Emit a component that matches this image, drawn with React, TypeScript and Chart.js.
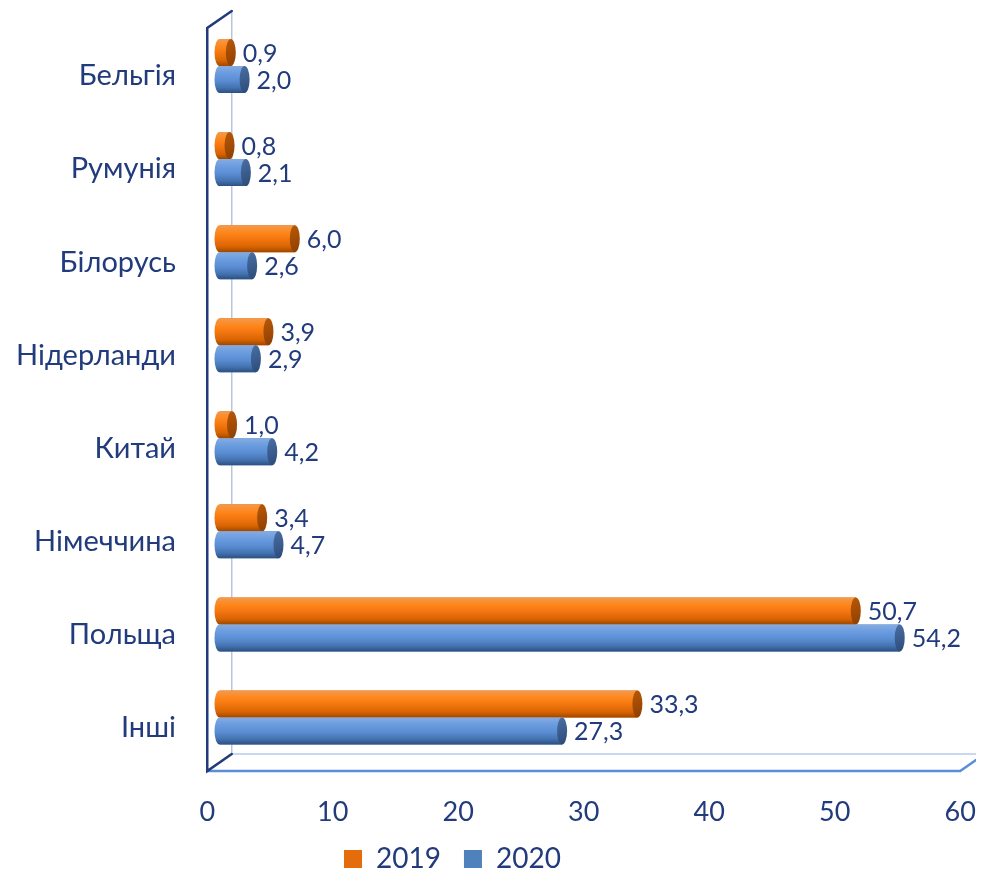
import React, { useEffect, useRef } from 'react';
import { Chart, registerables } from 'chart.js';

Chart.register(...registerables);

const categories = ['Бельгія', 'Румунія', 'Білорусь', 'Нідерланди', 'Китай', 'Німеччина', 'Польща', 'Інші'];
const values2019 = [0.9, 0.8, 6.0, 3.9, 1.0, 3.4, 50.7, 33.3];
const values2020 = [2.0, 2.1, 2.6, 2.9, 4.2, 4.7, 54.2, 27.3];
const seriesLabels = ['2019', '2020'];
const xMin = 0;
const xMax = 60;
const xStep = 10;

const NAVY = '#213b7c';
const FONT = 'Lato, "Open Sans", sans-serif';
const CAT_FONT = 29;
const TICK_FONT = 27;
const DATA_FONT = 25;
const LEGEND_FONT = 28;
const LEGEND_PAD = 23;

const CYL = [
  { solid: '#E46C0A', stops: ['#f39a4e', '#ff8518', '#f07410', '#d86400', '#9e4700'], cap: ['#b85808', '#8e3f02'] },
  { solid: '#4F81BD', stops: ['#86ace2', '#679ade', '#5a8cd2', '#4473b0', '#2c4f80'], cap: ['#4a6fa4', '#2c4a78'] },
];

const W = 968;
const H = 871;
const CHART_TOP = 11.5;
const CHART_BOTTOM = 756;
const Y_AXIS_W = 211.5;
const DX = 12.25;
const DY = 8.5;

function fmt(v: number) {
  return v.toFixed(1).replace('.', ',');
}

function drawCylinder(ctx: CanvasRenderingContext2D, x0: number, x1: number, yc: number, h: number, style: any) {
  const r = 5;
  const top = yc - h / 2;
  const g = ctx.createLinearGradient(0, top, 0, top + h);
  const pos = [0, 0.3, 0.55, 0.8, 1];
  for (let i = 0; i < style.stops.length; i++) g.addColorStop(pos[i], style.stops[i]);
  ctx.save();
  ctx.beginPath();
  ctx.moveTo(x1, top);
  ctx.lineTo(x0, top);
  ctx.ellipse(x0, yc, r, h / 2, 0, -Math.PI / 2, Math.PI / 2, true);
  ctx.lineTo(x1, top + h);
  ctx.closePath();
  ctx.fillStyle = g;
  ctx.fill();
  const cg = ctx.createLinearGradient(x1 - r, top, x1 + r, top + h);
  cg.addColorStop(0, style.cap[0]);
  cg.addColorStop(1, style.cap[1]);
  ctx.beginPath();
  ctx.ellipse(x1, yc, r, h / 2, 0, 0, Math.PI * 2);
  ctx.fillStyle = cg;
  ctx.fill();
  ctx.restore();
}

const boxPlugin = {
  id: 'box3d',
  beforeDatasetsDraw(chart: any) {
    const { ctx, chartArea } = chart;
    const L = chartArea.left;
    const R = chartArea.right;
    const T = chartArea.top;
    const fy = chartArea.bottom - 1.5;
    ctx.save();
    ctx.lineCap = 'round';
    ctx.strokeStyle = '#b9c5dd';
    ctx.lineWidth = 1.5;
    ctx.beginPath();
    ctx.moveTo(L + DX, T - DY);
    ctx.lineTo(L + DX, fy - DY);
    ctx.stroke();
    ctx.strokeStyle = '#c9d8f0';
    ctx.lineWidth = 2;
    ctx.beginPath();
    ctx.moveTo(L + DX, fy - DY);
    ctx.lineTo(R + DX, fy - DY);
    ctx.stroke();
    ctx.strokeStyle = '#5b8dd8';
    ctx.lineWidth = 2.5;
    ctx.beginPath();
    ctx.moveTo(L - DX, fy + DY);
    ctx.lineTo(R - DX, fy + DY);
    ctx.lineTo(R + DX, fy - DY);
    ctx.stroke();
    ctx.strokeStyle = '#223a78';
    ctx.lineWidth = 2.5;
    ctx.beginPath();
    ctx.moveTo(L + DX, T - DY);
    ctx.lineTo(L - DX, T + DY);
    ctx.lineTo(L - DX, fy + DY);
    ctx.lineTo(L + DX, fy - DY);
    ctx.stroke();
    ctx.restore();
  },
  afterDatasetsDraw(chart: any) {
    const { ctx } = chart;
    chart.data.datasets.forEach((ds: any, di: number) => {
      const meta = chart.getDatasetMeta(di);
      if (meta.hidden) return;
      meta.data.forEach((bar: any) => {
        const p = bar.getProps(['x', 'y', 'base', 'height'], true);
        drawCylinder(ctx, p.base, p.x, p.y, p.height, CYL[di]);
      });
    });
    ctx.save();
    ctx.fillStyle = NAVY;
    ctx.font = `${DATA_FONT}px ${FONT}`;
    ctx.textAlign = 'left';
    ctx.textBaseline = 'middle';
    chart.data.datasets.forEach((ds: any, di: number) => {
      const meta = chart.getDatasetMeta(di);
      meta.data.forEach((bar: any, i: number) => {
        const p = bar.getProps(['x', 'y'], true);
        ctx.fillText(fmt(ds.data[i]), p.x + 12, p.y + 1);
      });
    });
    ctx.restore();
  },
  afterLayout(chart: any) {
    const xs = chart.scales.x;
    if (xs) xs.bottom = chart.height;
    const lg = chart.legend;
    if (!lg) return;
    const w = lg.width;
    lg.left = 336 - LEGEND_PAD;
    lg.right = lg.left + w;
    lg.top = 851 - LEGEND_PAD - LEGEND_FONT / 2;
    lg.bottom = chart.height;
  },
};

export default function App() {
  const ref = useRef<HTMLCanvasElement | null>(null);
  useEffect(() => {
    if (!ref.current) return;
    const chart = new Chart(ref.current, {
      type: 'bar',
      data: {
        labels: categories,
        datasets: [
          { label: seriesLabels[0], data: values2019, backgroundColor: CYL[0].solid, borderWidth: 0 },
          { label: seriesLabels[1], data: values2020, backgroundColor: CYL[1].solid, borderWidth: 0 },
        ],
      },
      options: {
        indexAxis: 'y',
        animation: false,
        responsive: false,
        categoryPercentage: 0.58,
        barPercentage: 1,
        layout: { padding: { top: CHART_TOP, left: 0, right: 3.5, bottom: 0 } },
        scales: {
          x: {
            min: xMin,
            max: xMax,
            grid: { display: false, drawTicks: false },
            border: { display: false },
            ticks: {
              stepSize: xStep,
              color: NAVY,
              font: { family: FONT, size: TICK_FONT },
              padding: 32,
              labelOffset: -DX,
              maxRotation: 0,
            },
            afterFit: (s: any) => {
              s.paddingLeft = 0;
              s.paddingRight = 0;
              const lh = s.chart.legend ? s.chart.legend.height : 0;
              s.height = s.chart.height - CHART_BOTTOM - lh;
            },
          },
          y: {
            grid: { display: false, drawTicks: false },
            border: { display: false },
            ticks: {
              color: NAVY,
              font: { family: FONT, size: CAT_FONT },
              padding: 43.5,
              labelOffset: 10,
            },
            afterFit: (s: any) => {
              s.width = Y_AXIS_W;
              s.paddingTop = 0;
              s.paddingBottom = 0;
            },
          },
        },
        plugins: {
          legend: {
            position: 'bottom',
            align: 'start',
            labels: {
              boxWidth: 18,
              boxHeight: 18,
              padding: LEGEND_PAD,
              color: NAVY,
              font: { family: FONT, size: LEGEND_FONT },
            },
          },
          tooltip: { enabled: false },
        },
      },
      plugins: [boxPlugin],
    });
    return () => chart.destroy();
  }, []);
  return (
    <div style={{ width: W + 'px', height: H + 'px', marginBottom: '-8px' }}>
      <canvas ref={ref} width={W} height={H} style={{ display: 'block' }} />
    </div>
  );
}
